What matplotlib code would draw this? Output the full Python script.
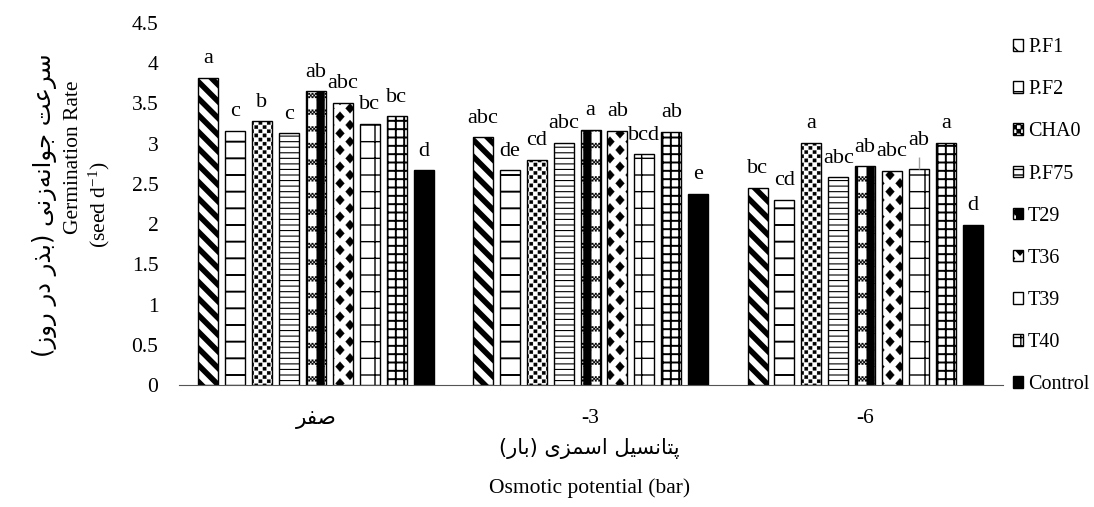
import numpy as np
import matplotlib
matplotlib.use('Agg')
import matplotlib.pyplot as plt
import matplotlib.hatch as mhatch
from matplotlib.path import Path

# osmotic levels (bar) and treatments
levels = ['صفر', '-3', '-6']
treatments = ['P.F1', 'P.F2', 'CHA0', 'P.F75', 'T29', 'T36', 'T39', 'T40', 'Control']

# germination rate (seed/day) per level, in treatment order
rate_0 = [3.82, 3.16, 3.28, 3.13, 3.65, 3.51, 3.25, 3.34, 2.67]
rate_3 = [3.08, 2.67, 2.80, 3.01, 3.17, 3.16, 2.87, 3.15, 2.38]
rate_6 = [2.45, 2.30, 3.01, 2.58, 2.72, 2.66, 2.68, 3.01, 1.99]

# Duncan letters
letters_0 = ['a', 'c', 'b', 'c', 'ab', 'abc', 'bc', 'bc', 'd']
letters_3 = ['abc', 'de', 'cd', 'abc', 'a', 'ab', 'bcd', 'ab', 'e']
letters_6 = ['bc', 'cd', 'a', 'abc', 'ab', 'abc', 'ab', 'a', 'd']

rates = [rate_0, rate_3, rate_6]
letters = [letters_0, letters_3, letters_6]


# --- extra fill patterns (replace the circle/star hatches) ---
class TileHatch(mhatch.HatchPatternBase):
    char = None
    nx = ny = 6
    polys = []

    def __init__(self, hatch, density):
        on = hatch.count(self.char) > 0
        per = sum(len(p) + 1 for p in self.polys)
        self.num_vertices = per * (self.nx + 2) * (self.ny + 2) if on else 0

    def set_vertices_and_codes(self, vertices, codes):
        vs, cs = [], []
        for i in range(-1, self.nx + 1):
            for j in range(-1, self.ny + 1):
                for p in self.polys:
                    p = np.asarray(p, float)
                    pts = (np.vstack([p, p[:1]]) + [i, j]) / [self.nx, self.ny]
                    c = np.full(len(pts), Path.LINETO, dtype=Path.code_type)
                    c[0] = Path.MOVETO
                    c[-1] = Path.CLOSEPOLY
                    vs.append(pts)
                    cs.append(c)
        vertices[:] = np.concatenate(vs)
        codes[:] = np.concatenate(cs)


def rect(x0, y0, x1, y1):
    return [(x0, y0), (x1, y0), (x1, y1), (x0, y1)]


def diamond(cx, cy, hw, hh):
    return [(cx, cy - hh), (cx + hw, cy), (cx, cy + hh), (cx - hw, cy)]


class SquareDots(TileHatch):      # CHA0
    char = 'o'
    nx = ny = 12
    polys = [rect(0.05, 0.05, 0.45, 0.45), rect(0.55, 0.55, 0.95, 0.95)]


class Diamonds(TileHatch):        # T36
    char = '*'
    nx, ny = 5, 6
    polys = [diamond(0.5, 0.5, 0.22, 0.3), diamond(0.0, 0.0, 0.22, 0.3)]


checker = [rect(0.5 + a * 0.1, 0.12 + b * 0.1, 0.5 + (a + 1) * 0.1, 0.12 + (b + 1) * 0.1)
           for a in range(5) for b in range(3) if (a + b) % 2 == 0]


class StripeChecker(TileHatch):   # T29
    char = 'O'
    nx = ny = 6
    polys = [rect(0.0, 0.0, 0.48, 1.0)] + checker


mhatch._hatch_types = [t for t in mhatch._hatch_types
                       if t not in (mhatch.SmallCircles, mhatch.LargeCircles, mhatch.Stars)]
mhatch._hatch_types += [SquareDots, Diamonds, StripeChecker]

styles = [('\\\\', 4.0), ('-', 1.4), ('o', 0.2), ('---', 0.8), ('O', 0.2),
          ('*', 0.2), ('+', 1.0), ('++', 1.4), (None, 1.0)]

plt.rcParams['font.family'] = ['Liberation Serif', 'DejaVu Sans']
plt.rcParams['mathtext.fontset'] = 'custom'
plt.rcParams['mathtext.rm'] = 'Liberation Serif'
plt.rcParams['mathtext.it'] = 'Liberation Serif:italic'

# simple Persian shaping (matplotlib has no Arabic joining / RTL)
FORMS = {
    'ا': ('\uFE8D', '\uFE8E', None, None), 'ب': ('\uFE8F', '\uFE90', '\uFE91', '\uFE92'),
    'پ': ('\uFB56', '\uFB57', '\uFB58', '\uFB59'), 'ت': ('\uFE95', '\uFE96', '\uFE97', '\uFE98'),
    'ج': ('\uFE9D', '\uFE9E', '\uFE9F', '\uFEA0'), 'د': ('\uFEA9', '\uFEAA', None, None),
    'ذ': ('\uFEAB', '\uFEAC', None, None), 'ر': ('\uFEAD', '\uFEAE', None, None),
    'ز': ('\uFEAF', '\uFEB0', None, None), 'س': ('\uFEB1', '\uFEB2', '\uFEB3', '\uFEB4'),
    'ص': ('\uFEB9', '\uFEBA', '\uFEBB', '\uFEBC'), 'ع': ('\uFEC9', '\uFECA', '\uFECB', '\uFECC'),
    'ف': ('\uFED1', '\uFED2', '\uFED3', '\uFED4'), 'ل': ('\uFEDD', '\uFEDE', '\uFEDF', '\uFEE0'),
    'م': ('\uFEE1', '\uFEE2', '\uFEE3', '\uFEE4'), 'ن': ('\uFEE5', '\uFEE6', '\uFEE7', '\uFEE8'),
    'ه': ('\uFEE9', '\uFEEA', '\uFEEB', '\uFEEC'), 'و': ('\uFEED', '\uFEEE', None, None),
    'ی': ('\uFBFC', '\uFBFD', '\uFBFE', '\uFBFF'),
}


def fa(text):
    out = []
    for i, ch in enumerate(text):
        if ch not in FORMS:
            if ch != '\u200c':
                out.append(ch)
            continue
        prev = text[i - 1] if i > 0 else ''
        nxt = text[i + 1] if i + 1 < len(text) else ''
        jp = prev in FORMS and FORMS[prev][2] is not None
        jn = nxt in FORMS and FORMS[ch][2] is not None
        iso, fin, ini, med = FORMS[ch]
        out.append(med if jp and jn else fin if jp else ini if jn else iso)
    return ''.join(out)[::-1].translate(str.maketrans('()', ')('))


fig = plt.figure(figsize=(10.94, 5.07), dpi=100)
ax = fig.add_axes([0.1632, 0.2406, 0.7532, 0.714])

x = np.arange(len(levels))
pitch, width = 0.098, 0.073
for k, name in enumerate(treatments):
    vals = [r[k] for r in rates]
    xs = x + (k - 4) * pitch
    hatch, hlw = styles[k]
    with plt.rc_context({'hatch.linewidth': hlw}):
        bars = ax.bar(xs, vals, width, color='black' if hatch is None else 'white',
                      edgecolor='black', linewidth=1.0, hatch=hatch, label=name)
    for p in bars:
        if hasattr(p, 'set_hatch_linewidth'):
            p.set_hatch_linewidth(hlw)
    for g, (xi, v) in enumerate(zip(xs, vals)):
        lift = 7 if (g, k) == (2, 6) else 0
        if lift:
            ax.vlines(xi, v, v + 0.16, color='#a0a0a0', lw=1)
        ax.annotate(letters[g][k], (xi, v), xytext=(0, 10.5 + lift), textcoords='offset points',
                    ha='center', va='baseline', fontsize=16)

ax.set_xlim(-0.5, 2.5)
ax.set_ylim(0, 4.5)
ax.set_yticks(np.arange(0, 4.51, 0.5))
ax.set_yticklabels(['0', '0.5', '1', '1.5', '2', '2.5', '3', '3.5', '4', '4.5'])
ax.set_xticks(x)
ax.set_xticklabels([fa(levels[0])] + levels[1:])
ax.get_xticklabels()[0].set_fontfamily('DejaVu Sans')
ax.get_xticklabels()[0].set_fontsize(14)
ax.tick_params(axis='y', length=0, pad=14.5, labelsize=15.5)
ax.tick_params(axis='x', length=0, pad=17.5, labelsize=15.5)
for s in ['left', 'right', 'top']:
    ax.spines[s].set_visible(False)
ax.spines['bottom'].set_color('#555555')

fig.text(0.041, 0.596, fa('سرعت جوانه‌زنی (بذر در روز)'), rotation=90, ha='center', va='center',
         fontsize=17.5, family='DejaVu Sans')
fig.text(0.067, 0.690, 'Germination Rate', rotation=90, ha='center', va='center', fontsize=15.5)
fig.text(0.091, 0.596, '(seed d$^{-1}$)', rotation=90, ha='center', va='center', fontsize=15.5)
fig.text(0.539, 0.116, fa('پتانسیل اسمزی (بار)'), ha='center', va='center', fontsize=15,
         family='DejaVu Sans')
fig.text(0.539, 0.037, 'Osmotic potential (bar)', ha='center', va='center', fontsize=15.5)

fig.legend(loc='upper left', bbox_to_anchor=(0.926, 0.925), frameon=False, fontsize=14.5,
           handlelength=0.5, handleheight=0.5, handletextpad=0.25, labelspacing=1.15,
           borderaxespad=0, borderpad=0)

fig.savefig('out.png', dpi=100)
